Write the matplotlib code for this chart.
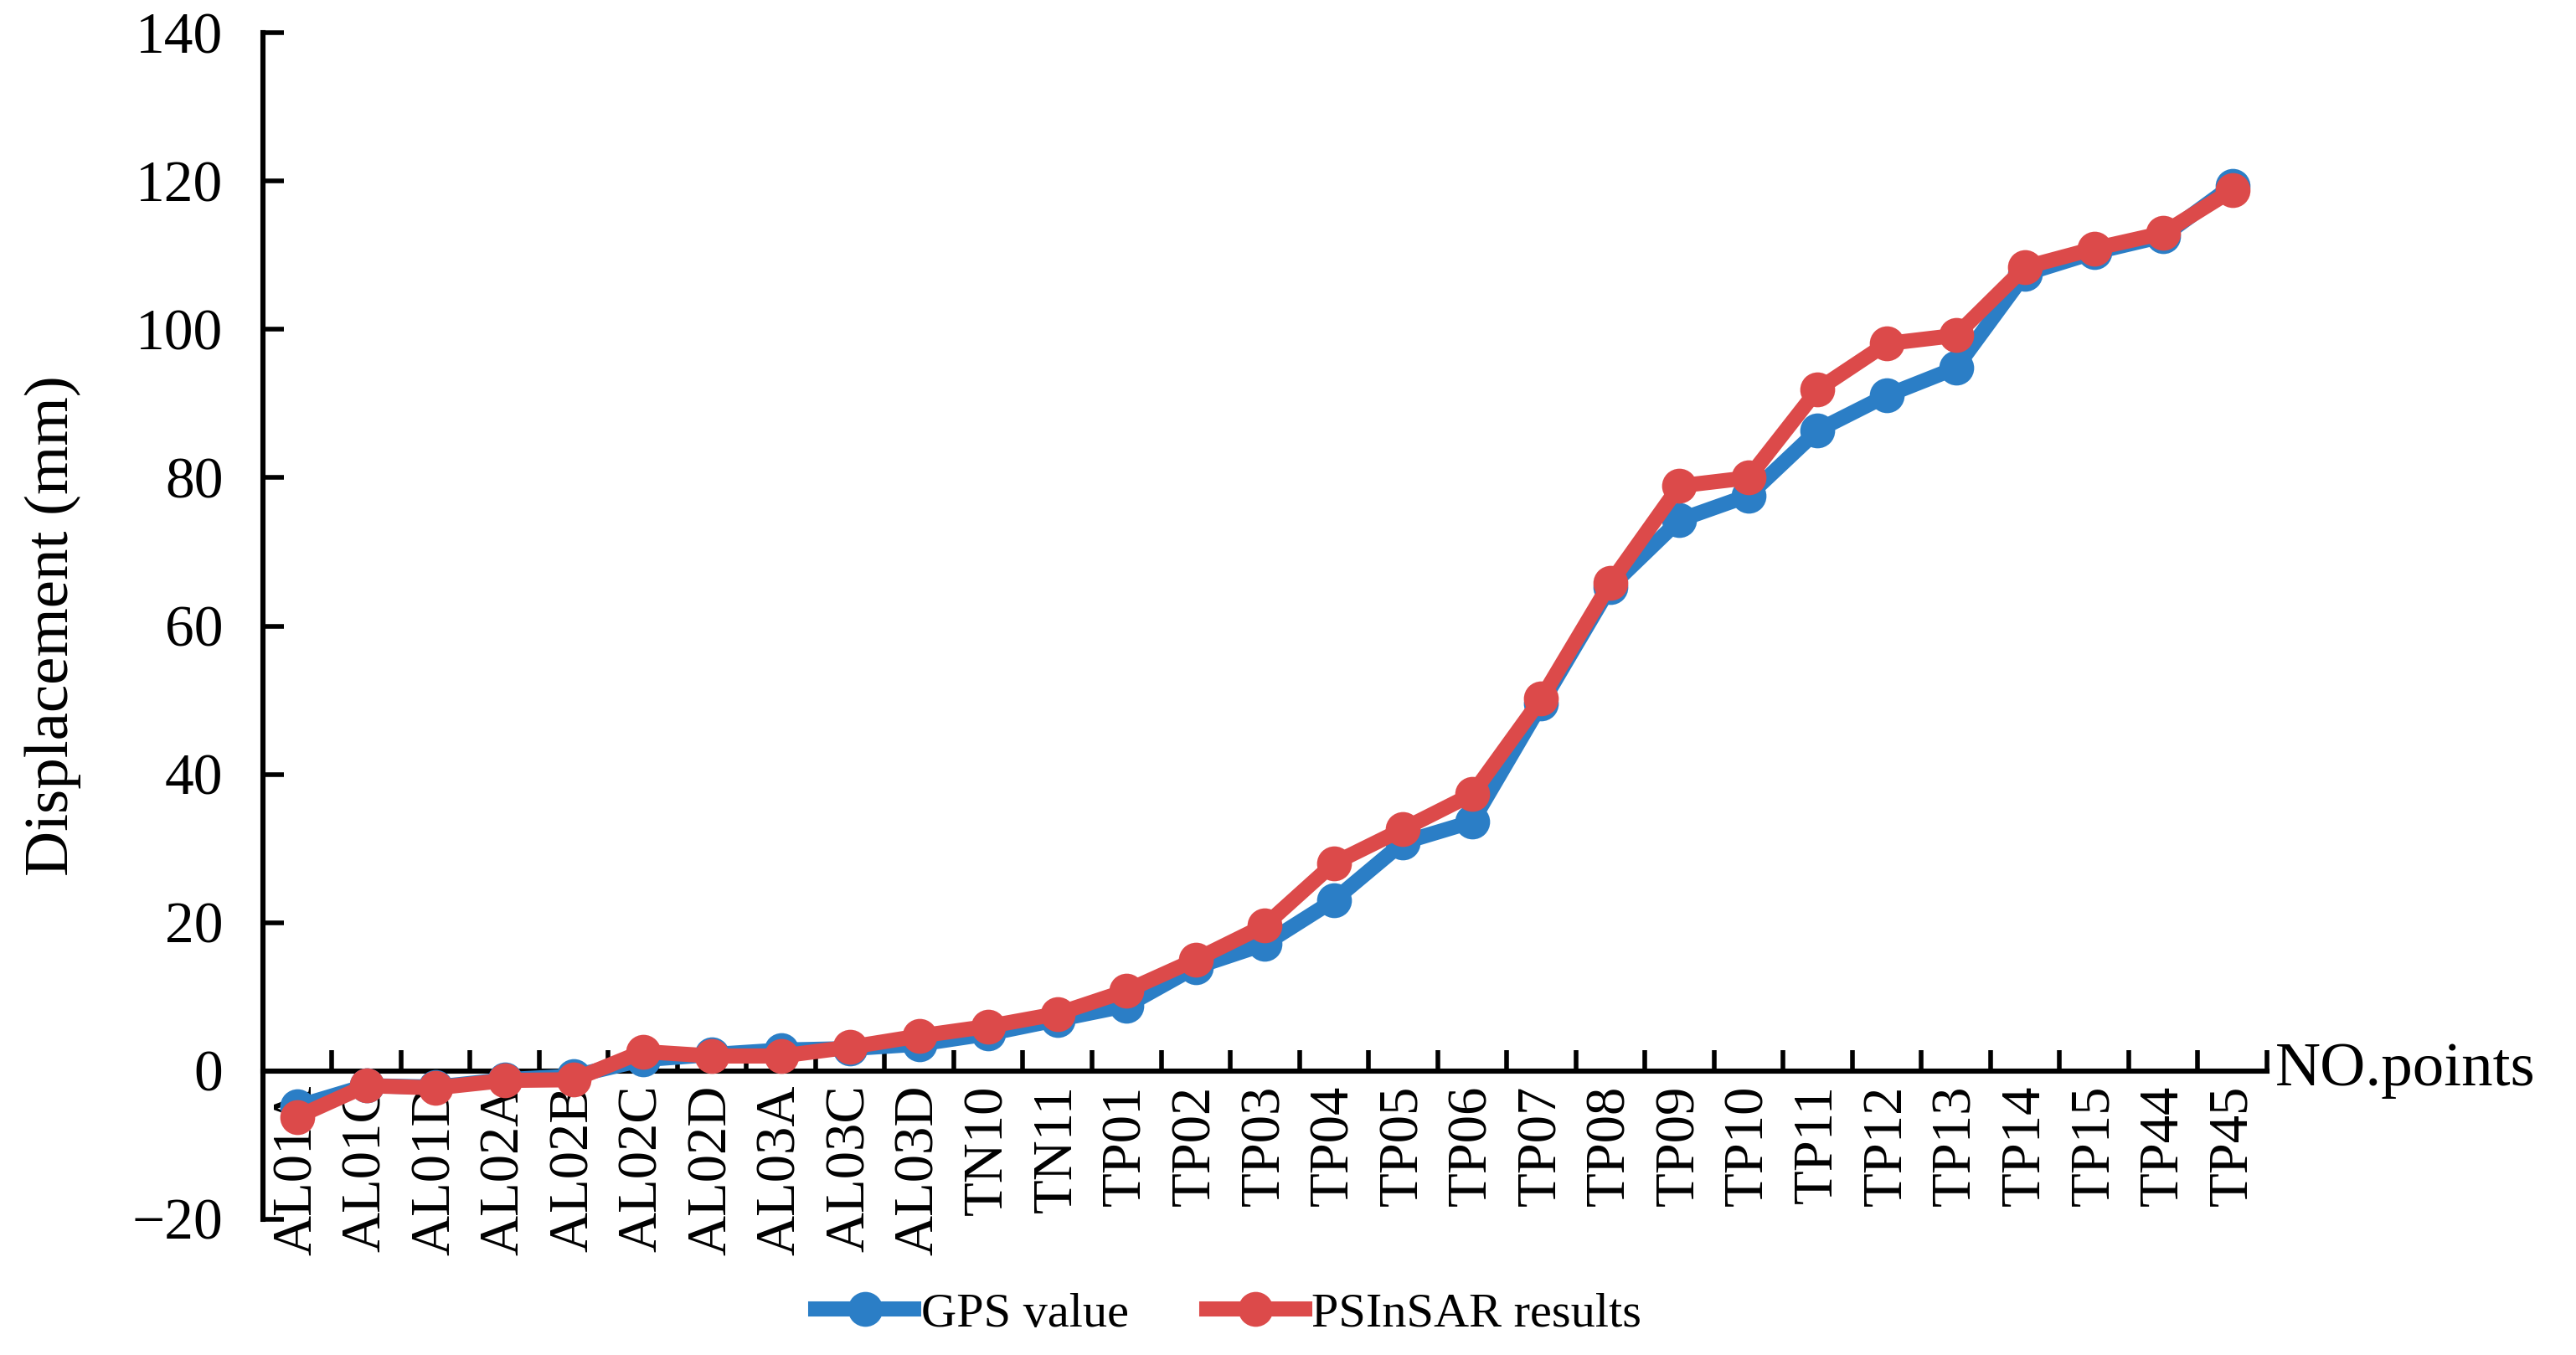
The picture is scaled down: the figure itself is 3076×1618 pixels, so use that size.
import numpy as np
import matplotlib
matplotlib.use('Agg')
import matplotlib.pyplot as plt
from matplotlib.ticker import FixedLocator

plt.rcParams['font.family'] = ['Liberation Serif', 'DejaVu Serif']

points = ['AL01A', 'AL01C', 'AL01D', 'AL02A', 'AL02B', 'AL02C', 'AL02D', 'AL03A',
          'AL03C', 'AL03D', 'TN10', 'TN11', 'TP01', 'TP02', 'TP03', 'TP04', 'TP05',
          'TP06', 'TP07', 'TP08', 'TP09', 'TP10', 'TP11', 'TP12', 'TP13', 'TP14',
          'TP15', 'TP44', 'TP45']
gps = [-4.8, -2.0, -2.2, -1.2, -0.7, 1.5, 2.2, 2.8, 3.0, 3.6, 5.0, 6.9,
       8.8, 14.0, 17.1, 23.0, 30.8, 33.6, 49.5, 65.3, 74.3, 77.6, 86.4, 91.1,
       94.8, 107.5, 110.4, 112.6, 119.4]
psinsar = [-6.2, -2.0, -2.3, -1.3, -1.2, 2.6, 2.0, 2.0, 3.2, 4.7, 6.0, 7.7,
           10.8, 15.0, 19.6, 28.0, 32.6, 37.3, 50.2, 65.8, 78.9, 80.0, 91.9, 98.1,
           99.2, 108.4, 110.9, 113.0, 118.8]

fig = plt.figure(figsize=(15.38, 8.09), dpi=200)
ax = fig.add_axes([0.102, 0.1003, 0.778, 0.8754])

x = np.arange(len(points))
ax.plot(x, gps, '-o', color='#2b7ec6', lw=6.5, ms=14, label='GPS value', zorder=3)
ax.plot(x, psinsar, '-o', color='#dc4a4a', lw=6.5, ms=14, label='PSInSAR results', zorder=4)

ax.set_xlim(-0.5, len(points) - 0.5)
ax.set_ylim(-20, 140)
ax.set_yticks(np.arange(-20, 141, 20))
ax.set_yticklabels(['\u221220'] + [str(v) for v in range(0, 141, 20)])

ax.spines['top'].set_visible(False)
ax.spines['right'].set_visible(False)
ax.spines['bottom'].set_position(('data', 0))
ax.spines['left'].set_linewidth(2.2)
ax.spines['bottom'].set_linewidth(2.2)

ax.set_xticks(x)
ax.set_xticklabels(points, rotation=90, fontsize=24)
ax.xaxis.set_minor_locator(FixedLocator(np.arange(-0.5, len(points), 1.0)))
ax.tick_params(axis='x', which='major', length=0, pad=6)
ax.tick_params(axis='x', which='minor', direction='in', length=9, width=2)
ax.tick_params(axis='y', direction='in', length=9, width=2, labelsize=25, pad=17)

ax.set_ylabel('Displacement (mm)', fontsize=27, labelpad=22)
ax.text(1.004, 1/8, 'NO.points', transform=ax.transAxes, fontsize=27,
        ha='left', va='center')

fig.legend(loc='center', bbox_to_anchor=(0.477, 0.03), ncol=2, frameon=False,
           fontsize=21, handlelength=2.0, columnspacing=1.6, handletextpad=0.15)

plt.savefig('out.png', dpi=200)
